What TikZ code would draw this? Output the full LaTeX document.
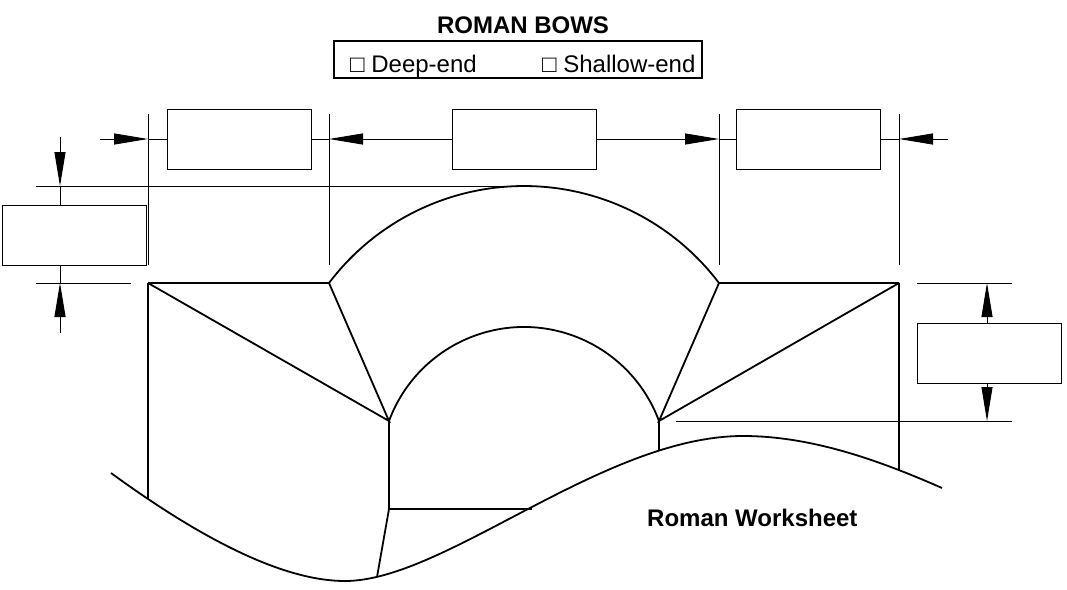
\documentclass[tikz,border=0pt]{standalone}
\usepackage{fontspec}
\setmainfont{Liberation Sans}
\usetikzlibrary{arrows.meta}
\begin{document}
\begin{tikzpicture}[x=1pt,y=-1pt,
  struct/.style={line width=1.8pt, line join=miter},
  dim/.style={line width=0.9pt},
  arr/.style={dim, -{Triangle[length=34pt,width=11pt]}},
  dimbox/.style={draw, line width=1pt, minimum width=144pt, minimum height=60pt, inner sep=0pt},
  lbl/.style={inner sep=0pt, font=\fontsize{24}{28}\selectfont}
]
\useasboundingbox (0,0) rectangle (1067,589);

% ---- title and legend
\node[lbl, font=\fontsize{24}{28}\selectfont\bfseries, anchor=base] (title) at (523,33) {ROMAN BOWS};
\node[draw, line width=1.5pt, minimum width=368pt, minimum height=37pt, inner sep=0pt] (legend) at (518,59.5) {};
\node[lbl, anchor=base west] (deep) at (350,72) {□ Deep-end};
\node[lbl, anchor=base west] (shallow) at (542,72) {□ Shallow-end};

% ---- key points of the structure
\coordinate (A) at (148,283);
\coordinate (B) at (329,283);
\coordinate (C) at (719,283);
\coordinate (D) at (899,283);
\coordinate (E) at (389,421);
\coordinate (F) at (659,421);
\coordinate (Ab) at (148,499);
\coordinate (Em) at (389,509);
\coordinate (Eb) at (377,577);
\coordinate (Er) at (532,509);
\coordinate (Fb) at (659,450);
\coordinate (Db) at (899,470);
\coordinate (G0) at (111,473);
\coordinate (Gmin) at (345,581);
\coordinate (Gmax) at (743,436);
\coordinate (G9) at (942,488);
\coordinate (Top) at (524,186);

% ---- structure
\draw[struct] (A) -- (B) arc[start angle=-142.89, end angle=-37.11, radius=244.5] -- (D);
\draw[struct] (E) arc[start angle=-159.70, end angle=-20.30, radius=143.94];
\draw[struct] (A) -- (E) -- (B);
\draw[struct] (D) -- (F) -- (C);
\draw[struct] (A) -- (Ab);
\draw[struct] (E) -- (Em) -- (Er);
\draw[struct] (Em) -- (Eb);
\draw[struct] (F) -- (Fb);
\draw[struct] (D) -- (Db);
\draw[struct] (G0) .. controls (209.7,545) and (287.7,581) .. (Gmin)
  .. controls (445,581) and (603,436) .. (Gmax)
  .. controls (813,436) and (882,461.6) .. (G9);

% ---- top dimensions
\node[dimbox] (b1) at (239,139) {};
\node[dimbox] (b2) at (524.5,139) {};
\node[dimbox] (b3) at (808.5,139) {};
\coordinate (x1t) at (148,114); \coordinate (x1b) at (148,265);
\coordinate (x2t) at (329,114); \coordinate (x2b) at (329,265);
\coordinate (x3t) at (719,114); \coordinate (x3b) at (719,265);
\coordinate (x4t) at (899,114); \coordinate (x4b) at (899,265);
\draw[dim] (x1t) -- (x1b);
\draw[dim] (x2t) -- (x2b);
\draw[dim] (x3t) -- (x3b);
\draw[dim] (x4t) -- (x4b);
\coordinate (d1) at (148,139);
\coordinate (d2) at (329,139);
\coordinate (d3) at (719,139);
\coordinate (d4) at (899,139);
\coordinate (t0) at (100,139);
\coordinate (t9) at (948,139);
\draw[arr] (t0) -- (d1);
\draw[dim] (d1) -- (b1.west);
\draw[dim] (b1.east) -- (d2);
\draw[arr] (b2.west) -- (d2);
\draw[arr] (b2.east) -- (d3);
\draw[dim] (d3) -- (b3.west);
\draw[dim] (b3.east) -- (d4);
\draw[arr] (t9) -- (d4);

% ---- left dimension
\coordinate (h1l) at (36,186); \draw[dim] (h1l) -- (Top);
\coordinate (h2l) at (36,283); \coordinate (h2r) at (131,283); \draw[dim] (h2l) -- (h2r);
\node[dimbox] (b4) at (74,235) {};
\coordinate (l0) at (60,137);
\coordinate (l1) at (60,186);
\coordinate (l2) at (60,205);
\coordinate (l3) at (60,265);
\coordinate (l4) at (60,283);
\coordinate (l5) at (60,333);
\draw[arr] (l0) -- (l1);
\draw[dim] (l1) -- (l2);
\draw[dim] (l3) -- (l4);
\draw[arr] (l5) -- (l4);

% ---- right dimension
\coordinate (r1l) at (917,283); \coordinate (r1r) at (1012,283); \draw[dim] (r1l) -- (r1r);
\coordinate (r2l) at (676,421); \coordinate (r2r) at (1012,421); \draw[dim] (r2l) -- (r2r);
\node[dimbox] (b5) at (989,353) {};
\coordinate (rt) at (987,323);
\coordinate (rtt) at (987,283);
\coordinate (rb) at (987,383);
\coordinate (rbb) at (987,421);
\draw[arr] (rt) -- (rtt);
\draw[arr] (rb) -- (rbb);

% ---- caption
\node[lbl, font=\fontsize{24}{28}\selectfont\bfseries, anchor=base west] (cap) at (647,526) {Roman Worksheet};
\end{tikzpicture}
\end{document}
